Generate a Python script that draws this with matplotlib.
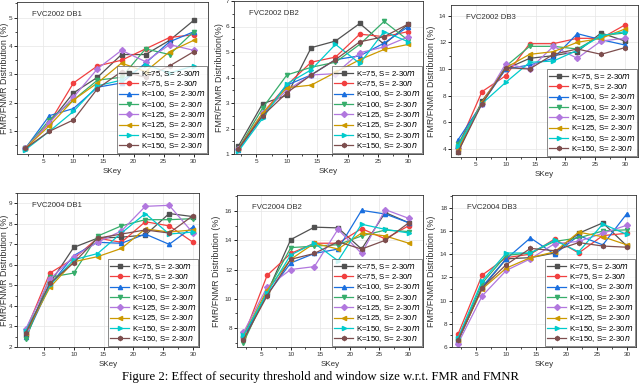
import matplotlib
matplotlib.use('Agg')
import matplotlib.pyplot as plt
from matplotlib.ticker import AutoMinorLocator
import numpy as np

plt.rcParams['font.family'] = ['Liberation Sans', 'DejaVu Sans']

skey = [2, 6, 10, 14, 18, 22, 26, 30]

labels = ['K=75, S= 2-30$m$', 'K=75, S= 2-30$n$',
          'K=100, S= 2-30$m$', 'K=100, S= 2-30$n$',
          'K=125, S= 2-30$m$', 'K=125, S= 2-30$n$',
          'K=150, S= 2-30$m$', 'K=150, S= 2-30$n$']

colors = ['#515151', '#F14040', '#1A6FDF', '#37AD6B',
          '#B177DE', '#CC9900', '#00CBCC', '#7D4E4E']
markers = ['s', 'o', '^', 'v', 'D', '<', '>', 'h']

# FVC2002 DB1
db02_1 = [
    [0.4, 1.3, 2.35, 2.9, 3.7, 3.7, 4.2, 4.9],
    [0.4, 1.3, 2.7, 3.3, 3.5, 3.9, 4.3, 4.4],
    [0.4, 1.55, 1.8, 2.55, 2.7, 3.4, 4.15, 4.5],
    [0.4, 1.4, 2.1, 2.8, 2.9, 3.9, 3.7, 4.5],
    [0.4, 1.3, 2.2, 3.2, 3.85, 3.45, 4.05, 3.85],
    [0.4, 1.2, 2.1, 2.7, 3.4, 3.1, 3.8, 4.2],
    [0.35, 1.0, 1.7, 2.6, 2.8, 3.35, 3.05, 3.3],
    [0.4, 1.0, 1.4, 2.5, 3.1, 2.9, 3.3, 3.8],
]
# FVC2002 DB2
db02_2 = [
    [1.3, 2.97, 3.3, 5.17, 5.43, 6.12, 5.3, 6.1],
    [1.2, 2.6, 3.7, 4.6, 4.8, 5.7, 5.6, 5.8],
    [1.15, 2.5, 3.7, 4.1, 4.7, 4.85, 5.35, 6.0],
    [1.2, 2.8, 4.1, 4.4, 4.6, 5.3, 6.2, 5.45],
    [1.2, 2.6, 3.5, 4.1, 4.15, 4.97, 5.2, 5.6],
    [1.2, 2.6, 3.6, 3.7, 4.2, 4.7, 5.1, 5.3],
    [1.1, 2.4, 3.75, 4.3, 5.3, 4.55, 5.8, 5.4],
    [1.2, 2.5, 3.4, 4.1, 4.7, 5.4, 5.6, 6.1],
]
# FVC2002 DB3
db02_3 = [
    [3.8, 7.6, 10.0, 10.8, 11.0, 11.3, 12.7, 12.1],
    [4.2, 8.3, 9.5, 11.9, 11.9, 12.3, 12.3, 13.3],
    [4.7, 7.4, 10.0, 10.3, 10.8, 12.65, 12.2, 11.8],
    [4.4, 7.4, 10.2, 11.7, 11.7, 11.5, 12.5, 12.7],
    [4.1, 7.4, 10.4, 10.0, 11.7, 10.8, 12.1, 12.3],
    [4.0, 7.5, 10.1, 11.1, 11.3, 12.0, 12.3, 13.0],
    [4.2, 7.4, 9.0, 10.5, 10.6, 11.4, 12.5, 12.8],
    [3.8, 7.4, 10.1, 10.0, 11.1, 11.5, 11.1, 11.6],
]
# FVC2004 DB1
db04_1 = [
    [2.6, 5.1, 6.85, 7.3, 7.35, 7.45, 8.5, 8.35],
    [2.8, 5.6, 6.3, 7.3, 7.1, 8.1, 7.9, 7.1],
    [2.5, 5.0, 6.45, 7.1, 7.05, 7.5, 7.0, 7.85],
    [2.4, 5.4, 5.6, 7.4, 7.9, 8.2, 8.2, 8.25],
    [2.9, 5.3, 6.4, 7.1, 7.65, 8.85, 8.9, 7.55],
    [2.7, 4.9, 6.15, 6.4, 6.8, 7.75, 7.6, 7.7],
    [2.8, 5.0, 6.25, 6.55, 7.55, 8.5, 7.5, 7.6],
    [2.7, 5.1, 6.1, 7.3, 7.5, 7.7, 7.55, 8.4],
]
# FVC2004 DB2
db04_2 = [
    [7.3, 10.4, 14.05, 14.9, 14.85, 13.4, 15.9, 15.2],
    [7.4, 11.6, 13.1, 13.8, 13.8, 14.8, 14.1, 15.0],
    [7.3, 10.3, 12.45, 13.1, 13.4, 16.05, 15.8, 15.2],
    [7.0, 10.5, 13.5, 13.6, 13.7, 14.3, 14.7, 14.6],
    [7.7, 10.8, 12.0, 12.2, 14.75, 13.1, 16.1, 15.5],
    [7.5, 10.6, 12.7, 13.8, 13.4, 14.5, 14.3, 13.8],
    [7.5, 10.4, 13.0, 13.8, 12.6, 15.1, 14.75, 14.5],
    [7.2, 10.2, 12.7, 13.1, 13.9, 13.4, 14.0, 15.2],
]
# FVC2004 DB3
db04_3 = [
    [6.5, 11.1, 13.6, 13.7, 14.1, 15.8, 16.7, 14.7],
    [7.1, 12.2, 13.7, 14.0, 15.3, 14.1, 15.6, 15.8],
    [6.5, 11.2, 13.6, 15.4, 14.0, 15.6, 14.8, 17.5],
    [6.7, 11.5, 13.9, 14.1, 15.1, 15.4, 16.0, 16.1],
    [6.3, 10.4, 12.6, 13.6, 14.9, 15.1, 15.8, 16.5],
    [6.6, 11.0, 12.8, 13.7, 14.2, 15.9, 15.5, 14.8],
    [6.8, 11.7, 14.1, 14.1, 15.2, 14.2, 16.6, 15.7],
    [6.6, 11.1, 13.1, 14.5, 14.3, 15.0, 14.7, 14.6],
]

panels = [
    ('FVC2002 DB1', db02_1, 'FMR/FNMR Distribution (%)', (0.6, 32.4), (0.2, 5.55), [1, 2, 3, 4, 5]),
    ('FVC2002 DB2', db02_2, 'FMR/FNMR Distribution(%)', (1.3, 32.4), (1, 7), [1, 2, 3, 4, 5, 6, 7]),
    ('FVC2002 DB3', db02_3, 'FMR/FNMR Distribution (%)', (0.8, 32.2), (3.4, 14.8), [4, 6, 8, 10, 12, 14]),
    ('FVC2004 DB1', db04_1, 'FMR/FNMR Distribution (%)', (0.5, 31.0), (2, 9.5), [2, 3, 4, 5, 6, 7, 8, 9]),
    ('FVC2004 DB2', db04_2, 'FMR/FNMR Distribution (%)', (0.9, 32.4), (6.7, 17.1), [8, 10, 12, 14, 16]),
    ('FVC2004 DB3', db04_3, 'FMR/FNMR Distribution (%)', (1.0, 31.5), (6, 19.1), [6, 8, 10, 12, 14, 16, 18]),
]

# axes boxes in pixels: left, top, right, bottom, ylabel gap
W, H = 640, 384
boxes = [(17, 2, 208, 154, 8), (234, 1, 423, 154, 10), (451, 5, 638, 157, 15),
         (17, 193, 199, 347, 8), (237, 195, 423, 347, 16), (452, 195, 636, 347, 16)]

fig = plt.figure(figsize=(6.4, 3.84), dpi=100)

for (title, data, ylab, xl, yl, yt), (l, t, r, b, gap) in zip(panels, boxes):
    ax = fig.add_axes([l / W, 1 - b / H, (r - l) / W, (b - t) / H])
    ax.grid(True, color='#e6e6e6', linewidth=0.5)
    ax.set_axisbelow(True)
    for i in range(len(data)):
        ax.plot(skey, data[i], color=colors[i], marker=markers[i],
                markersize=3, linewidth=0.9, label=labels[i])
    ax.set_xlim(xl)
    ax.set_ylim(yl)
    ax.set_xticks([5, 10, 15, 20, 25, 30])
    ax.set_yticks(yt)
    ax.xaxis.set_minor_locator(AutoMinorLocator(2))
    ax.yaxis.set_minor_locator(AutoMinorLocator(2))
    ax.tick_params(labelsize=4.6, length=2.5, width=0.6, pad=1, direction='out',
                   labelcolor='#333333')
    ax.tick_params(which='minor', length=1.5, width=0.5)
    for s in ax.spines.values():
        s.set_linewidth(0.6)
        s.set_color('#333333')
    ax.set_xlabel('SKey', fontsize=5.8, labelpad=3, color='#333333')
    ax.set_ylabel(ylab, fontsize=6.4, color='#333333')
    ax.yaxis.set_label_coords(-gap / (r - l), 0.5)
    ax.text(0.08, 0.91, title, transform=ax.transAxes, fontsize=5.6, color='#333333')
    leg = ax.legend(loc='lower right', fontsize=5.7, frameon=True, fancybox=False,
                    edgecolor='#555555', borderaxespad=0.1, labelspacing=0.05,
                    handlelength=2.4, handletextpad=0.3, borderpad=0.3)
    leg.get_frame().set_linewidth(0.6)

fig.text(0.5, 0.003, 'Figure 2: Effect of security threshold and window size w.r.t. FMR and FMNR',
         ha='center', va='bottom', fontsize=9.2, family=['Liberation Serif', 'DejaVu Serif'])

fig.savefig('out.png', dpi=100)
